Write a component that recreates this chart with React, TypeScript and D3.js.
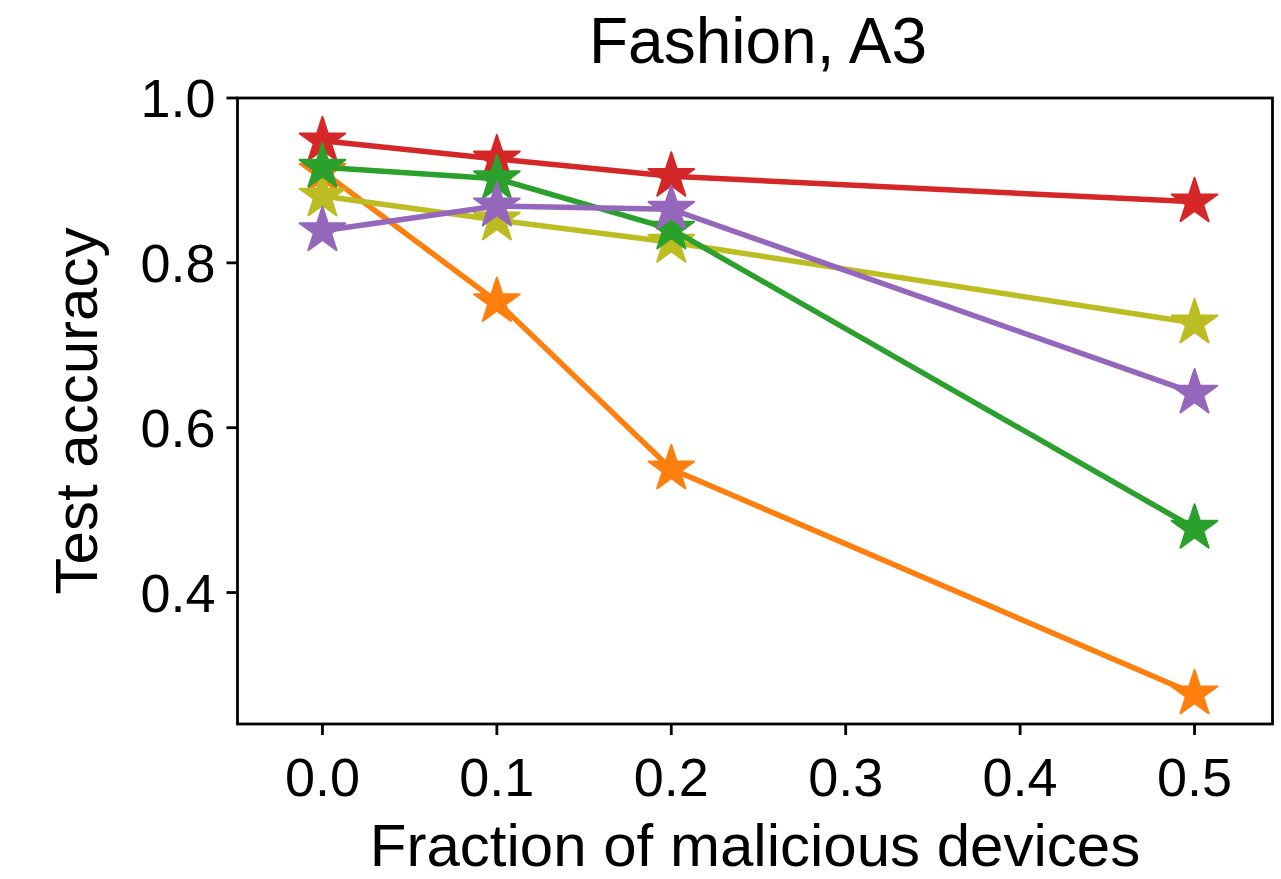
import React from "react";
import * as d3 from "d3";

// fraction of malicious devices (x) and test accuracy per method (y)
const fractions = [0, 0.1, 0.2, 0.5];
const orangeAcc = [0.911, 0.753, 0.55, 0.277];
const redAcc = [0.948, 0.926, 0.905, 0.874];
const oliveAcc = [0.881, 0.852, 0.825, 0.727];
const greenAcc = [0.916, 0.902, 0.841, 0.478];
const purpleAcc = [0.839, 0.869, 0.865, 0.642];

const xTicks = [0, 0.1, 0.2, 0.3, 0.4, 0.5];
const yTicks = [0.4, 0.6, 0.8, 1.0];

const series = [
  { name: "orange", color: "#ff7f0e", values: orangeAcc },
  { name: "red", color: "#d62728", values: redAcc },
  { name: "olive", color: "#bcbd22", values: oliveAcc },
  { name: "green", color: "#2ca02c", values: greenAcc },
  { name: "purple", color: "#9467bd", values: purpleAcc },
];

const font = "'Liberation Sans', Arial, Helvetica, sans-serif";

export default function App() {
  const width = 1281;
  const height = 879;
  const left = 237.5;
  const right = 1272.5;
  const top = 98;
  const bottom = 724;

  const x = d3.scaleLinear().domain([-0.0487, 0.5447]).range([left, right]);
  const y = d3.scaleLinear().domain([0.2405, 1.0]).range([bottom, top]);

  const line = d3
    .line<number>()
    .x((_, i) => x(fractions[i]))
    .y((d) => y(d));

  const starR = 24;
  const star = d3.symbol(d3.symbolStar, (starR * starR) / 0.8908130915292852)();

  return (
    <svg
      width={width}
      height={height}
      style={{ position: "absolute", left: 0, top: 0, background: "#fff" }}
    >
      {series.map((s) => (
        <g key={s.name}>
          <path
            d={line(s.values) || ""}
            fill="none"
            stroke={s.color}
            strokeWidth={5.5}
            strokeLinejoin="round"
          />
          {s.values.map((v, i) => (
            <path
              key={i}
              d={star || ""}
              transform={`translate(${x(fractions[i])},${y(v)})`}
              fill={s.color}
              stroke={s.color}
              strokeWidth={2}
              strokeLinejoin="round"
            />
          ))}
        </g>
      ))}

      {/* frame */}
      <rect
        x={left}
        y={top}
        width={right - left}
        height={bottom - top}
        fill="none"
        stroke="#000"
        strokeWidth={2.8}
      />

      {/* y axis ticks */}
      {yTicks.map((t) => (
        <g key={t} transform={`translate(${left},${y(t)})`}>
          <line x1={-11} x2={0} stroke="#000" strokeWidth={2.8} />
          <text
            x={-22}
            dy="0.36em"
            textAnchor="end"
            fontFamily={font}
            fontSize={54}
            fill="#000"
          >
            {t.toFixed(1)}
          </text>
        </g>
      ))}

      {/* x axis ticks */}
      {xTicks.map((t) => (
        <g key={t} transform={`translate(${x(t)},${bottom})`}>
          <line y1={0} y2={11} stroke="#000" strokeWidth={2.8} />
          <text
            y={72}
            textAnchor="middle"
            fontFamily={font}
            fontSize={54}
            fill="#000"
          >
            {t.toFixed(1)}
          </text>
        </g>
      ))}

      <text
        x={(left + right) / 2}
        y={866}
        textAnchor="middle"
        fontFamily={font}
        fontSize={60}
        fill="#000"
      >
        Fraction of malicious devices
      </text>
      <text
        transform={`translate(97,${(top + bottom) / 2}) rotate(-90)`}
        textAnchor="middle"
        fontFamily={font}
        fontSize={60}
        fill="#000"
      >
        Test accuracy
      </text>
      <text
        x={758}
        y={63}
        textAnchor="middle"
        fontFamily={font}
        fontSize={64}
        fill="#000"
      >
        Fashion, A3
      </text>
    </svg>
  );
}
